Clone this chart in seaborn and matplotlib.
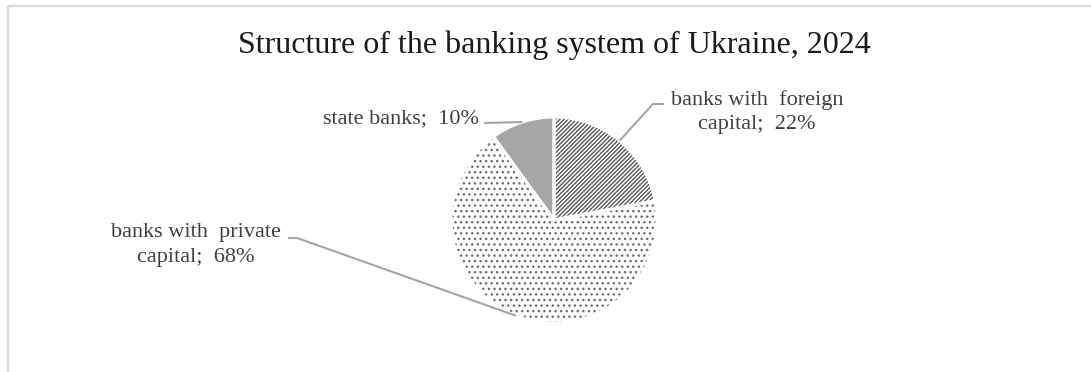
import numpy as np
import matplotlib
matplotlib.use("Agg")
import matplotlib.pyplot as plt
import seaborn as sns

# Ownership structure of Ukrainian banks, 2024 (share of the system, %)
categories = ["banks with  foreign\ncapital;", "banks with  private\ncapital;", "state banks;"]
shares = [22, 68, 10]
title = "Structure of the banking system of Ukraine, 2024"

sns.set_theme(style="white")
plt.rcParams["font.family"] = ["Liberation Serif", "DejaVu Serif"]
plt.rcParams["hatch.linewidth"] = 1.0

W, H = 1091, 372
fig = plt.figure(figsize=(W / 100, H / 100), dpi=100)
ax = fig.add_axes([0, 0, 1, 1])

# pixel-like coordinates: y measured upward from the bottom
cx, cy, r = 554, H - 220, 103

fills = ["white", "white", "#a6a6a6"]
hatches = ["////////", "...", None]
hatch_cols = ["#555555", "#6e6e6e", "#a6a6a6"]

wedges, _ = ax.pie(shares, startangle=90, counterclock=False, center=(cx, cy),
                   radius=r, colors=fills, wedgeprops=dict(linewidth=0))
for w, h, hc in zip(wedges, hatches, hatch_cols):
    if h:
        w.set_hatch(h)
    w.set_edgecolor(hc)
    w.set_linewidth(0)

# white separators between slices
sep, _ = ax.pie(shares, startangle=90, counterclock=False, center=(cx, cy),
                radius=r, colors=["none"] * 3,
                wedgeprops=dict(linewidth=2.2, edgecolor="white"))

ax.set_aspect("auto")
ax.set_xlim(0, W)
ax.set_ylim(0, H)
ax.axis("off")

# label text and leader lines
label_pos = [(757, H - 112, "center"), (196, H - 245, "center"), (479, H - 119, "right")]
elbows = [[(653, H - 104), (664, H - 104)],
          [(297, H - 238), (288, H - 238)],
          [(484, H - 123)]]
line_col = "#a6a6a6"
text_col = "#404040"
for w, cat, val, (tx, ty, ha), elb in zip(wedges, categories, shares, label_pos, elbows):
    mid = np.deg2rad((w.theta1 + w.theta2) / 2)
    ex, ey = cx + r * np.cos(mid), cy + r * np.sin(mid)
    xs = [ex] + [p[0] for p in elb]
    ys = [ey] + [p[1] for p in elb]
    ax.plot(xs, ys, color=line_col, lw=1.5, solid_capstyle="butt", zorder=3)
    ax.text(tx, ty, f"{cat}  {val}%", ha=ha, va="center", fontsize=16,
            color=text_col, linespacing=1.42, multialignment="center")

ax.text(554, H - 45, title, ha="center", va="center", fontsize=23, color="#1a1a1a")

# light frame along the top and left edges
ax.plot([8, W], [H - 6, H - 6], color="#d9d9d9", lw=1.6, solid_capstyle="butt")
ax.plot([8, 8], [H - 6, 0], color="#d9d9d9", lw=1.6, solid_capstyle="butt")

fig.savefig("out.png", dpi=100, facecolor="white")
